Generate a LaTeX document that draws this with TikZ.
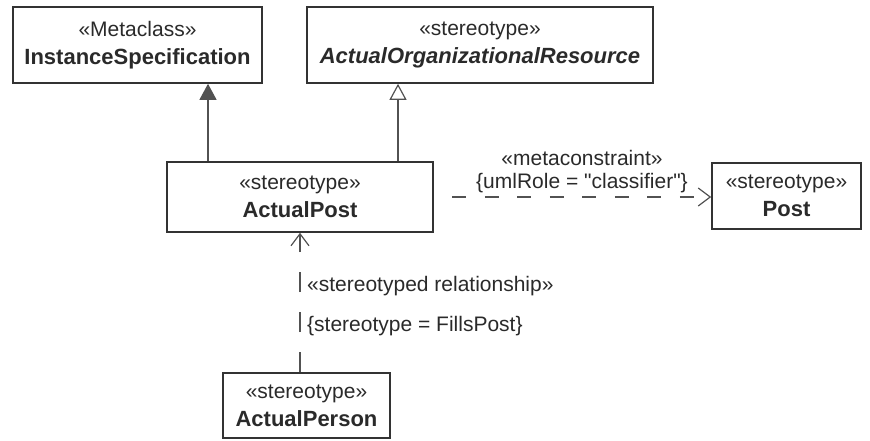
\documentclass[tikz,border=0pt]{standalone}
\usepackage{fontspec}
\setmainfont{Liberation Sans}[Ligatures=TeXOff]
\usetikzlibrary{arrows.meta,positioning}
\definecolor{umlline}{HTML}{333333}
\definecolor{umltext}{HTML}{2A2A2A}
\tikzset{
    umlbox/.style={draw=umlline,line width=1.6pt,align=center,text=umltext,inner sep=0pt,font=\fontsize{21}{28}\selectfont},
    gen/.style={draw=umlline!85,line width=1.2pt,-{Triangle[length=16pt,width=17pt]}},
    genopen/.style={draw=umlline!85,line width=1.2pt,-{Triangle[open,length=16pt,width=17pt]}},
    dep/.style={draw=umlline!85,line width=1.2pt,-{Straight Barb[length=12pt,width=18pt]}},
    lbl/.style={text=umltext,font=\fontsize{21}{23}\selectfont,inner sep=0pt}
}
\newcommand{\umlname}[1]{{\fontsize{22}{28}\selectfont\bfseries #1}}

\begin{document}
\begin{tikzpicture}[x=1pt,y=-1pt]
    \useasboundingbox (0,0) rectangle (870,440);

    % 类框
    \node[umlbox,minimum width=249pt,minimum height=76pt] (inst) at (137.5,45) {«Metaclass»\\\umlname{InstanceSpecification}};
    \node[umlbox,minimum width=346pt,minimum height=76pt] (aor) at (480,45) {«stereotype»\\\umlname{\itshape ActualOrganizationalResource}};
    \node[umlbox,minimum width=266pt,minimum height=70pt] (apost) at (300,197) {«stereotype»\\\umlname{ActualPost}};
    \node[umlbox,minimum width=149pt,minimum height=66pt] (post) at (786.5,196) {«stereotype»\\\umlname{Post}};
    \node[umlbox,minimum width=167pt,minimum height=65pt] (aperson) at (306.5,405.5) {«stereotype»\\\umlname{ActualPerson}};

    % 泛化
    \coordinate (g1) at ([xshift=-92pt]apost.north);
    \coordinate (g2) at ([xshift=98pt]apost.north);
    \draw[gen] (g1) -- (g1 |- inst.south);
    \draw[genopen] (g2) -- (g2 |- aor.south);

    % 依赖
    \draw[dep,dash pattern=on 14pt off 18.5pt,dash phase=14pt] (apost.east) -- (post.west |- apost.east);
    \coordinate (d1) at ([xshift=-6.5pt]aperson.north);
    \draw[dep,dash pattern=on 20pt off 20pt] (d1) -- (d1 |- apost.south);

    % 标签
    \node[lbl,anchor=base] (mc) at (582,165) {«metaconstraint»};
    \node[lbl,anchor=base] (role) at (582,188) {\{umlRole = "classifier"\}};
    \node[lbl,anchor=base west] (srel) at (307,291) {«stereotyped relationship»};
    \node[lbl,anchor=base west] (sval) at (307,331) {\{stereotype = FillsPost\}};
\end{tikzpicture}
\end{document}
